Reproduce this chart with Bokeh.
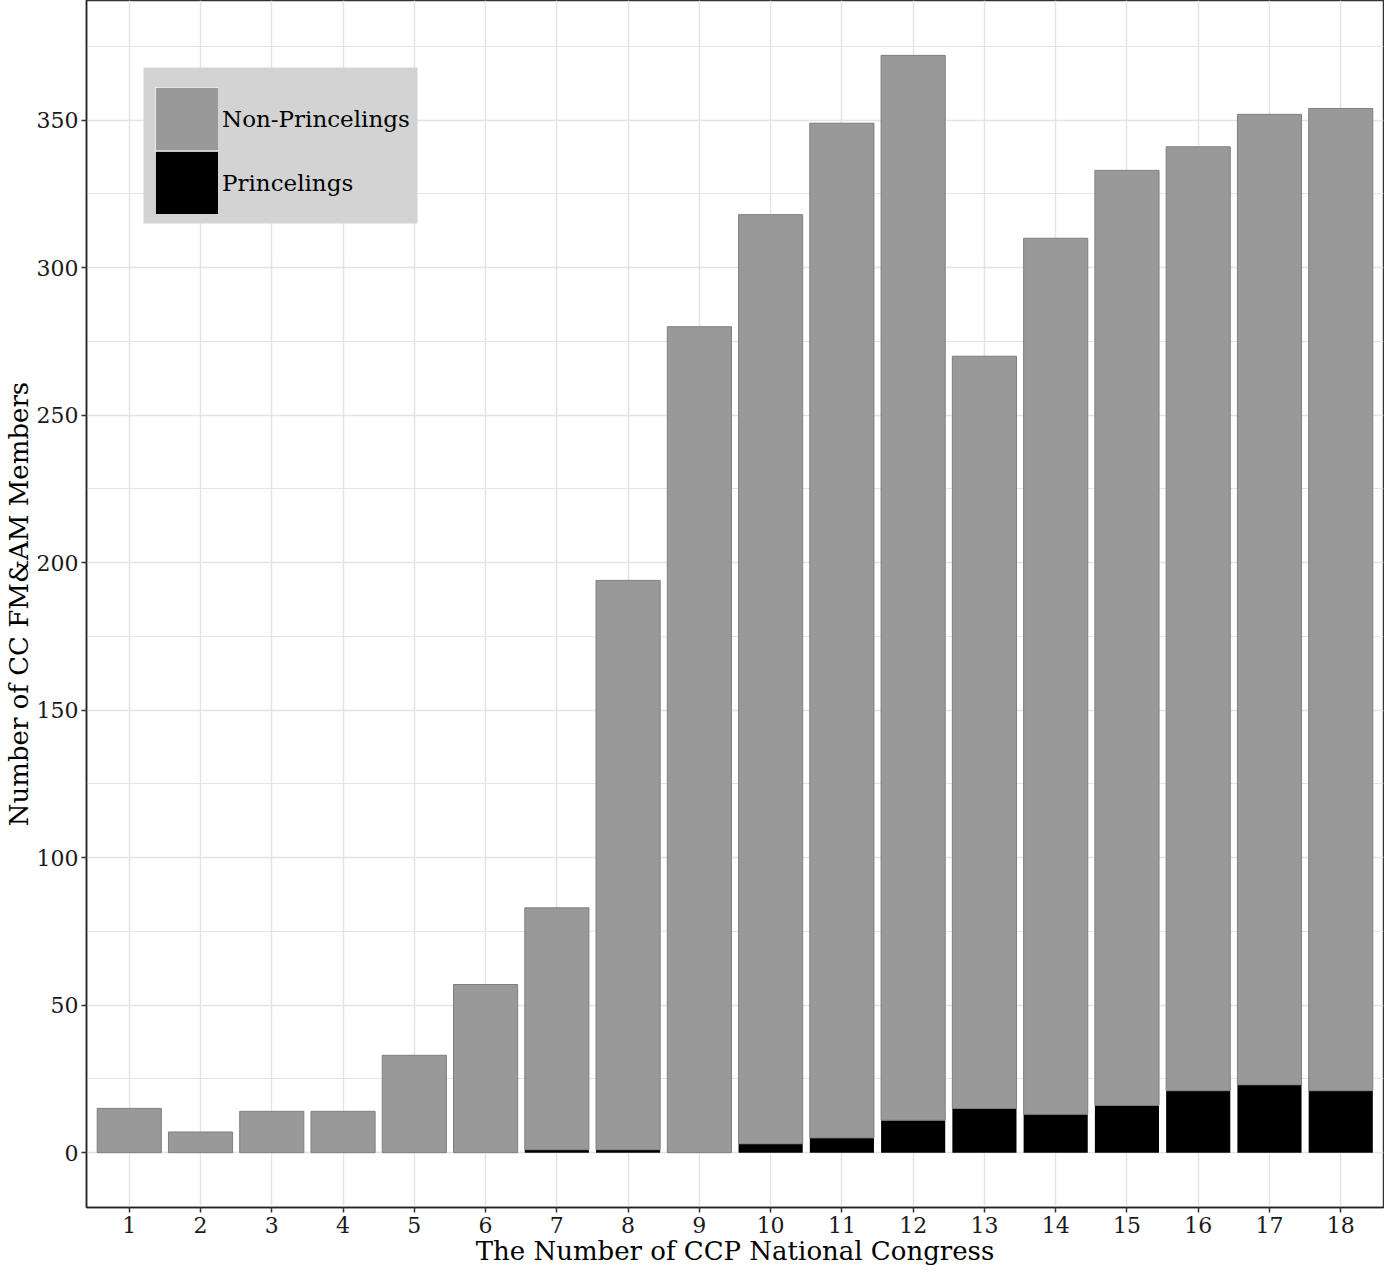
from bokeh.plotting import figure
from bokeh.models import ColumnDataSource, Range1d, FixedTicker, Legend, LegendItem, BoxAnnotation
from bokeh.embed import file_html
from bokeh.resources import INLINE

# ---- data ----
congress = list(range(1, 19))
x_tick_labels = [str(c) for c in congress]
non_princelings = [15, 7, 14, 14, 33, 57, 82, 193, 280, 315, 344, 361, 255, 297, 317, 320, 329, 333]
princelings = [0, 0, 0, 0, 0, 0, 1, 1, 0, 3, 5, 11, 15, 13, 16, 21, 23, 21]
y_ticks = [0, 50, 100, 150, 200, 250, 300, 350]
y_minor = [25, 75, 125, 175, 225, 275, 325, 375]
series_labels = ["Non-Princelings", "Princelings"]

totals = [a + b for a, b in zip(non_princelings, princelings)]
source = ColumnDataSource(dict(x=congress, pr=princelings, total=totals))

FONT = "DejaVu Serif"
GRID = "#e4e4e4"
GRAY = "#999999"

p = figure(width=1384, height=1268, output_backend="svg", toolbar_location=None,
           x_range=Range1d(0.4, 18.6), y_range=Range1d(-18.6, 390.6),
           min_border_left=10, min_border_right=1, min_border_top=0, min_border_bottom=10)

p.vbar(x="x", top="pr", bottom=0, width=0.9, fill_color="black", line_color=None, source=source)
p.vbar(x="x", bottom="pr", top="total", width=0.9, fill_color=GRAY, line_color="#7f7f7f",
       line_width=1, source=source)

# legend key proxies (not drawn in the plot); thick strokes make each key fill
# its whole row, with a thin white border around it
proxy = ColumnDataSource(dict(x=[float("nan")], top=[float("nan")]))
kw = dict(x="x", top="top", width=0.9, source=proxy, line_join="miter")
r_non_w = p.vbar(fill_color="white", line_color="white", line_width=16, **kw)
r_non = p.vbar(fill_color=GRAY, line_color=GRAY, line_width=12, **kw)
r_pr_w = p.vbar(fill_color="white", line_color="white", line_width=16, **kw)
r_pr = p.vbar(fill_color="black", line_color="black", line_width=12, **kw)

# legend background panel (screen units, relative to the plot frame)
p.add_layout(BoxAnnotation(left=57, right=331, top=1140, bottom=984,
                           left_units="screen", right_units="screen",
                           top_units="screen", bottom_units="screen",
                           fill_color="#d3d3d3", fill_alpha=1.0, line_color=None))

legend = Legend(items=[LegendItem(label=series_labels[0], renderers=[r_non_w, r_non]),
                       LegendItem(label=series_labels[1], renderers=[r_pr_w, r_pr])],
                location=(69, 993), glyph_width=63, glyph_height=63, spacing=1,
                label_standoff=4, padding=0, margin=0,
                background_fill_alpha=0.0, border_line_color=None,
                label_text_font=FONT, label_text_font_size="23px", label_text_color="black")
p.add_layout(legend, "center")

# axes
p.xaxis.ticker = FixedTicker(ticks=congress)
p.xaxis.major_label_overrides = {c: l for c, l in zip(congress, x_tick_labels)}
p.yaxis.ticker = FixedTicker(ticks=y_ticks, minor_ticks=y_minor)

for ax in (p.xaxis, p.yaxis):
    ax.axis_line_color = "#222222"
    ax.axis_line_width = 1.5
    ax.major_tick_line_color = "#333333"
    ax.major_tick_line_width = 1.5
    ax.major_tick_out = 5
    ax.major_tick_in = 0
    ax.minor_tick_line_color = None
    ax.major_label_text_font = FONT
    ax.major_label_text_font_size = "22px"
    ax.major_label_text_color = "#1a1a1a"
    ax.axis_label_text_font = FONT
    ax.axis_label_text_font_size = "26px"
    ax.axis_label_text_font_style = "normal"
    ax.axis_label_text_color = "black"

p.xaxis.axis_label = "The Number of CCP National Congress"
p.yaxis.axis_label = "Number of CC FM&AM Members"
p.xaxis.major_label_standoff = 4
p.xaxis.axis_label_standoff = 0
p.yaxis.major_label_standoff = 3
p.yaxis.axis_label_standoff = 0

p.xgrid.grid_line_color = GRID
p.xgrid.grid_line_width = 1.5
p.ygrid.grid_line_color = GRID
p.ygrid.grid_line_width = 1.5
p.ygrid.minor_grid_line_color = GRID
p.ygrid.minor_grid_line_width = 1.2

p.outline_line_color = "#333333"
p.outline_line_width = 1.5
p.background_fill_color = "white"
p.border_fill_color = "white"

open("out.html", "w").write(file_html(p, INLINE))
